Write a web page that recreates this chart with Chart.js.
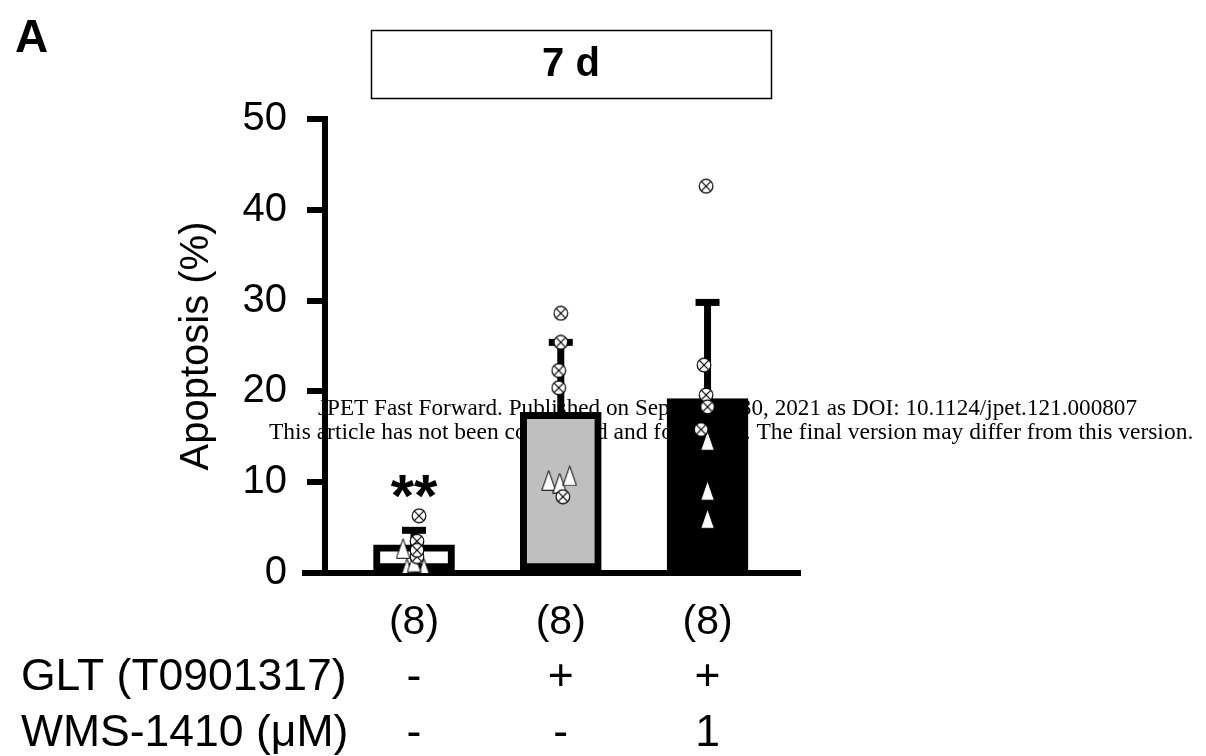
<!DOCTYPE html>
<html>
<head>
<meta charset="utf-8">
<script src="https://cdn.jsdelivr.net/npm/chart.js@4"></script>
<style>
  html, body { margin: 0; padding: 0; background: #fff; }
  #wrap { position: relative; width: 1206px; height: 756px; }
  canvas { display: block; }
</style>
</head>
<body>
<div id="wrap"><canvas id="c" width="1206" height="756"></canvas></div>
<script>
// ---- data ----
const categories = ['Vehicle', 'GLT', 'GLT + WMS-1410'];
const xPositions = [1, 2, 3];
const meanValues = [3.1, 17.7, 19.2];
const errorUpper = [4.7, 25.4, 29.8];
const nLabels = ['(8)', '(8)', '(8)'];
const gltLabels = ['-', '+', '+'];
const wmsLabels = ['-', '-', '1'];
const significance = ['**', '', ''];
const yTicks = [0, 10, 20, 30, 40, 50];

// individual points: crossed circles and triangles (x = group position + jitter)
const crossedX = [1.034, 1.02, 1.02, 1.02, 2.0, 2.0, 1.986, 1.986, 2.014, 2.99, 2.976, 2.99, 3.0, 2.956];
const crossedY = [6.3, 3.5, 1.8, 2.5, 28.6, 25.4, 22.3, 20.4, 8.4, 42.6, 22.9, 19.6, 18.3, 15.8];
const triX = [0.925, 0.952, 1.068, 1.0, 1.918, 1.993, 2.061, 3.0, 3.0, 3.0];
const triY = [2.7, 0.5, 0.5, 1.2, 10.2, 9.9, 10.7, 14.6, 9.1, 6.0];

const panelLabel = 'A';
const panelTitle = '7 d';
const yTitle = 'Apoptosis (%)';
const rowNames = ['GLT (T0901317)', 'WMS-1410 (μM)'];
const watermark1 = 'JPET Fast Forward. Published on September 30, 2021 as DOI: 10.1124/jpet.121.000807';
const watermark2 = 'This article has not been copyedited and formatted. The final version may differ from this version.';

const SANS = '"Liberation Sans", Arial, sans-serif';
const SERIF = '"Liberation Serif", "Times New Roman", serif';

// ---- marker images ----
function makeCrossedCircle() {
  const c = document.createElement('canvas');
  c.width = 16; c.height = 16;
  const g = c.getContext('2d');
  const r = 6.8, cx = 8, cy = 8;
  g.beginPath(); g.arc(cx, cy, r, 0, Math.PI * 2);
  g.fillStyle = '#fff'; g.fill();
  g.lineWidth = 1.2; g.strokeStyle = '#000'; g.stroke();
  const d = r * Math.SQRT1_2;
  g.beginPath();
  g.moveTo(cx - d, cy - d); g.lineTo(cx + d, cy + d);
  g.moveTo(cx + d, cy - d); g.lineTo(cx - d, cy + d);
  g.stroke();
  return c;
}
function makeTriangle() {
  const c = document.createElement('canvas');
  c.width = 15; c.height = 21;
  const g = c.getContext('2d');
  g.beginPath();
  g.moveTo(7.5, 0.7); g.lineTo(14.3, 20.3); g.lineTo(0.7, 20.3); g.closePath();
  g.fillStyle = '#fff'; g.fill();
  g.lineWidth = 1; g.strokeStyle = '#000'; g.stroke();
  return c;
}
const crossedImg = makeCrossedCircle();
const triImg = makeTriangle();

// ---- plugins ----
const backgroundText = {
  id: 'backgroundText',
  beforeDraw(chart) {
    const ctx = chart.ctx;
    ctx.save();
    ctx.fillStyle = '#000';
    ctx.textBaseline = 'middle';
    ctx.textAlign = 'left';
    ctx.font = '23.2px ' + SERIF;
    ctx.fillText(watermark1, 318, 409);
    ctx.font = '23.5px ' + SERIF;
    ctx.fillText(watermark2, 269, 433);
    ctx.restore();
  }
};

const errorBars = {
  id: 'errorBars',
  afterDatasetDraw(chart, args) {
    if (args.index !== 0) return;
    const ctx = chart.ctx;
    const xs = chart.scales.x, ys = chart.scales.y;
    ctx.save();
    ctx.strokeStyle = '#000';
    ctx.lineCap = 'butt';
    meanValues.forEach((m, i) => {
      const x = xs.getPixelForValue(xPositions[i]);
      const y0 = ys.getPixelForValue(m);
      const y1 = ys.getPixelForValue(errorUpper[i]);
      ctx.lineWidth = 7;
      ctx.beginPath(); ctx.moveTo(x, y0); ctx.lineTo(x, y1); ctx.stroke();
      ctx.beginPath(); ctx.moveTo(x - 12, y1); ctx.lineTo(x + 12, y1); ctx.stroke();
    });
    ctx.restore();
  }
};

const annotations = {
  id: 'annotations',
  afterDraw(chart) {
    const ctx = chart.ctx;
    const xs = chart.scales.x, ys = chart.scales.y;
    const area = chart.chartArea;
    ctx.save();
    ctx.fillStyle = '#000';
    ctx.strokeStyle = '#000';

    // x-axis extension to the left of the y axis
    ctx.lineWidth = 6;
    ctx.beginPath();
    ctx.moveTo(302, ys.getPixelForValue(0));
    ctx.lineTo(area.left, ys.getPixelForValue(0));
    ctx.stroke();

    // panel letter
    ctx.font = 'bold 46px ' + SANS;
    ctx.textAlign = 'left';
    ctx.textBaseline = 'alphabetic';
    ctx.fillText(panelLabel, 15, 52);

    // title box
    ctx.lineWidth = 1.5;
    ctx.strokeRect(371.5, 30.5, 400, 68);
    ctx.font = 'bold 40px ' + SANS;
    ctx.textAlign = 'center';
    ctx.textBaseline = 'middle';
    ctx.fillText(panelTitle, 571, 65);

    // significance
    ctx.font = 'bold 60px ' + SANS;
    significance.forEach((s, i) => {
      if (!s) return;
      ctx.fillText(s, xs.getPixelForValue(xPositions[i]), 499);
    });

    // n labels and condition rows
    ctx.font = '41px ' + SANS;
    nLabels.forEach((s, i) => ctx.fillText(s, xs.getPixelForValue(xPositions[i]), 623));
    ctx.font = '44.5px ' + SANS;
    gltLabels.forEach((s, i) => ctx.fillText(s, xs.getPixelForValue(xPositions[i]), 678));
    wmsLabels.forEach((s, i) => ctx.fillText(s, xs.getPixelForValue(xPositions[i]), 734));
    ctx.textAlign = 'left';
    ctx.fillText(rowNames[0], 21, 678);
    ctx.fillText(rowNames[1], 21, 734);
    ctx.restore();
  }
};

// ---- chart ----
const barData = xPositions.map((x, i) => ({ x: x, y: meanValues[i] }));
const crossedData = crossedX.map((x, i) => ({ x: x, y: crossedY[i] }));
const triData = triX.map((x, i) => ({ x: x, y: triY[i] }));

new Chart(document.getElementById('c'), {
  type: 'bar',
  data: {
    datasets: [
      {
        type: 'bar',
        label: 'Mean',
        data: barData,
        backgroundColor: ['#ffffff', '#bfbfbf', '#000000'],
        borderColor: '#000',
        borderWidth: 7,
        borderSkipped: false,
        barThickness: 81,
        order: 2
      },
      {
        type: 'scatter',
        label: 'Crossed',
        data: crossedData,
        pointStyle: crossedImg,
        order: 0
      },
      {
        type: 'scatter',
        label: 'Triangle',
        data: triData,
        pointStyle: triImg,
        order: 1
      }
    ]
  },
  options: {
    responsive: false,
    animation: false,
    events: [],
    layout: { padding: { left: 160, right: 406, top: 119, bottom: 0 } },
    plugins: { legend: { display: false }, tooltip: { enabled: false }, title: { display: false } },
    scales: {
      x: {
        type: 'linear',
        min: 0.3935,
        max: 3.63,
        offset: false,
        ticks: { display: false },
        grid: { display: false },
        border: { display: true, color: '#000', width: 6 },
        afterFit(scale) { scale.height = 756 - 573; }
      },
      y: {
        min: 0,
        max: 50,
        afterBuildTicks(scale) { scale.ticks = yTicks.map(v => ({ value: v })); },
        ticks: { color: '#000', font: { family: SANS, size: 40 }, padding: 20 },
        grid: { display: true, drawOnChartArea: false, drawTicks: true, tickLength: 18, tickWidth: 6, lineWidth: 6, color: '#000', tickColor: '#000' },
        border: { display: true, color: '#000', width: 6 },
        title: { display: true, text: yTitle, color: '#000', font: { family: SANS, size: 40 }, padding: { top: 13, bottom: 0 } },
        afterFit(scale) { scale.width = 325 - 160; }
      }
    }
  },
  plugins: [backgroundText, errorBars, annotations]
});
</script>
</body>
</html>
